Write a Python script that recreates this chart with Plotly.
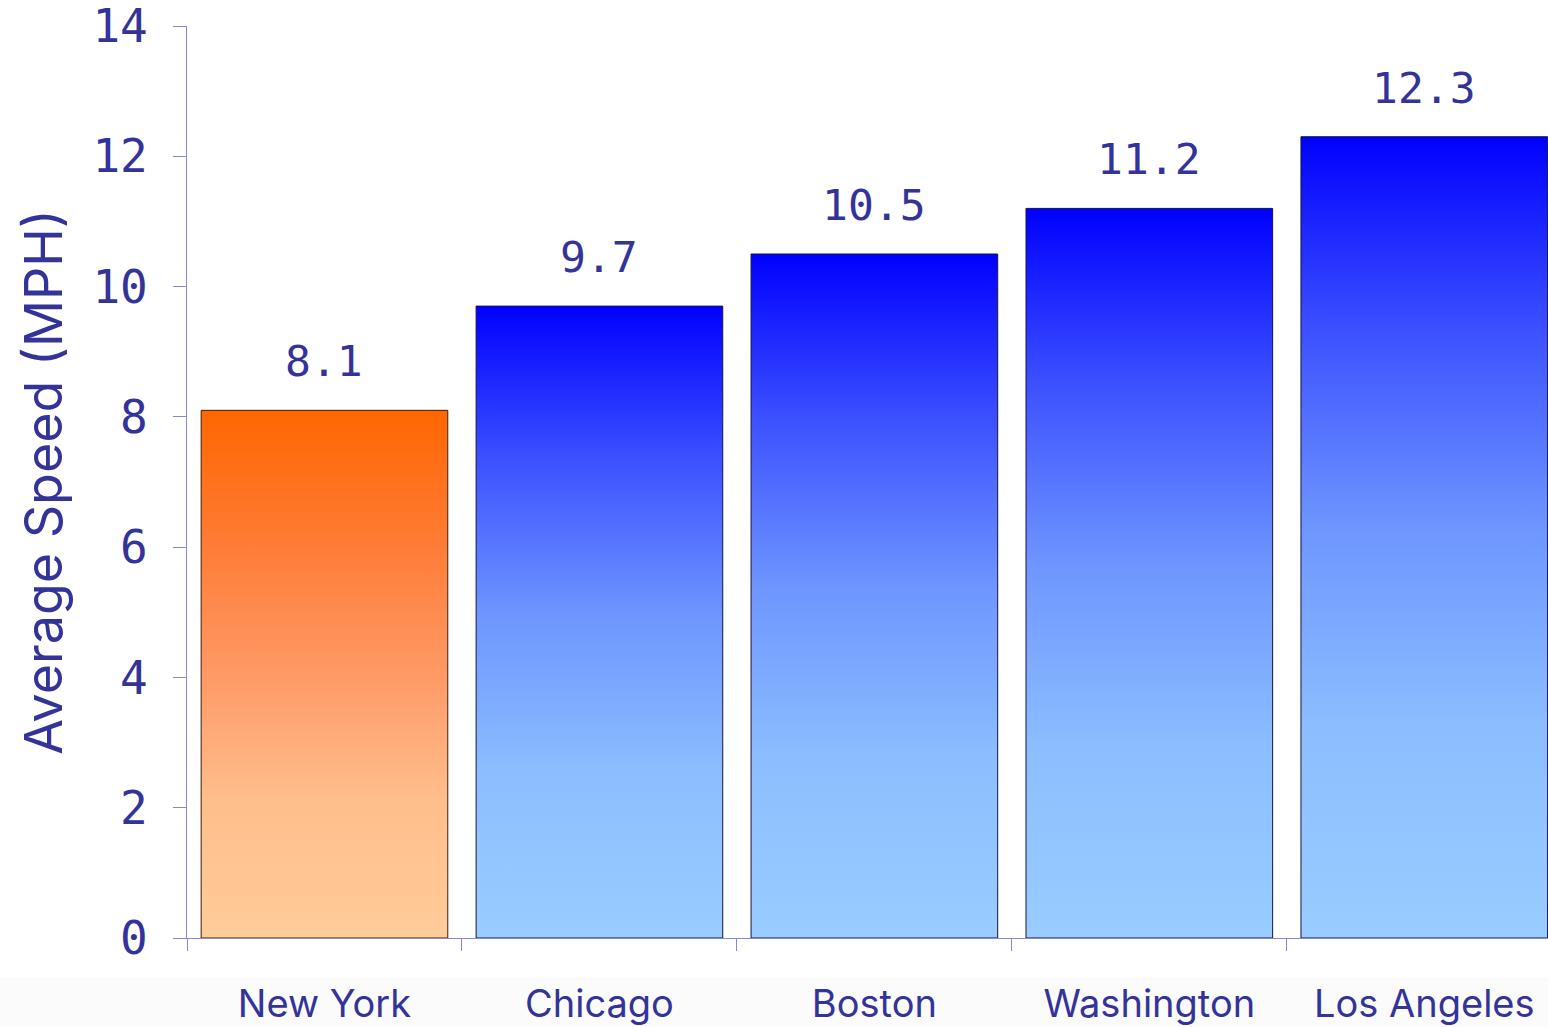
import plotly.graph_objects as go

cities = ["New York", "Chicago", "Boston", "Washington", "Los Angeles"]
speeds = [8.1, 9.7, 10.5, 11.2, 12.3]
highlight = ["New York"]
y_ticks = [0, 2, 4, 6, 8, 10, 12, 14]

TEXT = "#333399"
AXIS = "#8888cc"
BAR_HALF = 0.4485

orange_scale = [[0.0, "#ffcc99"], [0.26, "#ffbe8c"], [0.5, "#ff9966"], [0.76, "#ff7a33"], [1.0, "#ff6600"]]
blue_scale = [[0.0, "#99ccff"], [0.26, "#8cbeff"], [0.51, "#6e96ff"], [0.76, "#3c50ff"], [1.0, "#0000ff"]]

fig = go.Figure()
for i, (c, v) in enumerate(zip(cities, speeds)):
    hl = c in highlight
    xs = [i - BAR_HALF, i + BAR_HALF, i + BAR_HALF, i - BAR_HALF, i - BAR_HALF]
    ys = [0, 0, v, v, 0]
    fig.add_trace(go.Scatter(
        x=xs, y=ys, mode="lines", fill="toself",
        fillgradient=dict(type="vertical", colorscale=orange_scale if hl else blue_scale,
                          start=0, stop=v),
        line=dict(color="#3a1c00" if hl else "#141440", width=1),
        showlegend=False, hoverinfo="skip",
    ))
    fig.add_annotation(x=i, y=v, text=f"{v:.1f}", showarrow=False, yshift=49,
                       yanchor="middle",
                       font=dict(family="DejaVu Sans Mono", size=43, color=TEXT))

# light band behind category labels
fig.add_shape(type="rect", xref="paper", yref="paper",
              x0=-187 / 1361, x1=1.0, y0=-89 / 912, y1=-39 / 912,
              fillcolor="#fbfbfb", line=dict(width=0), layer="below")

fig.update_layout(
    width=1548, height=1027,
    margin=dict(l=187, r=0, t=26, b=89),
    plot_bgcolor="white", paper_bgcolor="white",
    showlegend=False,
)
fig.update_xaxes(
    range=[-0.5, 4.45], automargin=False, ticklabeloverflow="allow",
    tickvals=list(range(len(cities))), ticktext=cities,
    ticks="", showgrid=False, zeroline=False,
    showline=True, linecolor=AXIS, linewidth=1,
    tickfont=dict(family="Inter", size=38, color=TEXT),
    ticklabelstandoff=32,
    minor=dict(tickvals=[i - 0.5 for i in range(len(cities))], ticks="outside",
               ticklen=12, tickcolor=AXIS, tickwidth=1, showgrid=False),
)
fig.update_yaxes(
    range=[0, 14], tickvals=y_ticks, automargin=False, ticklabeloverflow="allow",
    ticks="outside", ticklen=13, tickcolor=AXIS, tickwidth=1,
    showgrid=False, zeroline=False,
    showline=True, linecolor=AXIS, linewidth=1,
    tickfont=dict(family="DejaVu Sans Mono", size=46, color=TEXT),
    ticklabelstandoff=16,
    title=dict(text="Average Speed (MPH)", standoff=13,
               font=dict(family="Inter", size=52, color=TEXT)),
)

fig.write_html("out.html")
